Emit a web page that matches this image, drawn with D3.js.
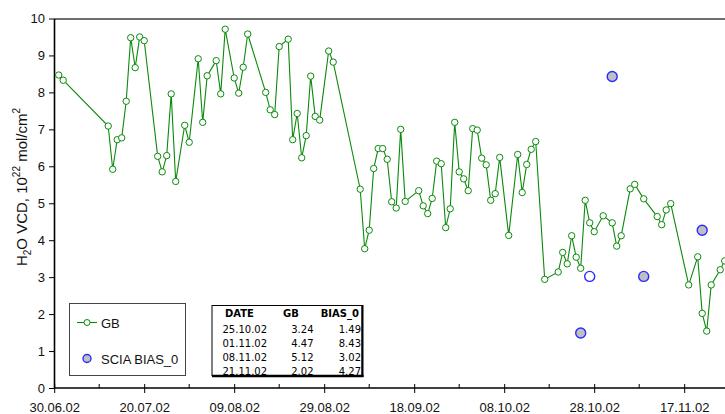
<!DOCTYPE html>
<html>
<head>
<meta charset="utf-8">
<script src="https://cdn.jsdelivr.net/npm/d3@7/dist/d3.min.js"></script>
<style>
  body { margin: 0; background: #fff; }
  svg { display: block; font-family: "Liberation Sans", Arial, sans-serif; }
</style>
</head>
<body>
<svg id="chart" width="725" height="414"></svg>
<script>
// Ground-based H2O vertical column densities (10^22 mol/cm^2)
const gbDates = [
  "01.07.02","02.07.02","12.07.02","13.07.02","14.07.02","15.07.02","16.07.02","17.07.02","18.07.02","19.07.02",
  "20.07.02","23.07.02","24.07.02","25.07.02","26.07.02","27.07.02","29.07.02","30.07.02","01.08.02","02.08.02",
  "03.08.02","05.08.02","06.08.02","07.08.02","09.08.02","10.08.02","11.08.02","12.08.02","16.08.02","17.08.02",
  "18.08.02","19.08.02","21.08.02","22.08.02","23.08.02","24.08.02","25.08.02","26.08.02","27.08.02","28.08.02",
  "30.08.02","31.08.02","06.09.02","07.09.02","08.09.02","09.09.02","10.09.02","11.09.02","12.09.02","13.09.02",
  "14.09.02","15.09.02","16.09.02","19.09.02","20.09.02","21.09.02","22.09.02","23.09.02","24.09.02","25.09.02",
  "26.09.02","27.09.02","28.09.02","29.09.02","30.09.02","01.10.02","02.10.02","03.10.02","04.10.02","05.10.02",
  "06.10.02","07.10.02","09.10.02","11.10.02","12.10.02","13.10.02","14.10.02","15.10.02","17.10.02","20.10.02",
  "21.10.02","22.10.02","23.10.02","24.10.02","25.10.02","26.10.02","27.10.02","28.10.02","30.10.02","01.11.02",
  "02.11.02","03.11.02","05.11.02","06.11.02","08.11.02","11.11.02","12.11.02","13.11.02","14.11.02","18.11.02",
  "20.11.02","21.11.02","22.11.02","23.11.02","25.11.02","26.11.02"
];
const gbValues = [
  8.47, 8.33, 7.09, 5.92, 6.72, 6.77, 7.76, 9.48, 8.67, 9.50,
  9.40, 6.27, 5.85, 6.29, 7.96, 5.59, 7.11, 6.65, 8.91, 7.19,
  8.45, 8.86, 7.96, 9.71, 8.39, 7.98, 8.68, 9.58, 8.00, 7.53,
  7.40, 9.24, 9.44, 6.72, 7.43, 6.23, 6.83, 8.44, 7.35, 7.25,
  9.12, 8.82, 5.38, 3.77, 4.27, 5.94, 6.48, 6.48, 6.19, 5.04,
  4.87, 7.00, 5.05, 5.34, 4.93, 4.72, 5.13, 6.14, 6.07, 4.34,
  4.85, 7.19, 5.85, 5.66, 5.34, 7.02, 6.98, 6.22, 6.04, 5.08,
  5.26, 6.24, 4.13, 6.32, 5.29, 6.05, 6.46, 6.67, 2.94, 3.14,
  3.67, 3.36, 4.12, 3.54, 3.24, 5.08, 4.47, 4.23, 4.66, 4.47,
  3.84, 4.12, 5.39, 5.51, 5.12, 4.64, 4.42, 4.82, 4.99, 2.79,
  3.55, 2.02, 1.54, 2.79, 3.20, 3.44
];

// SCIAMACHY columns (BIAS_0)
const sciaDates = ["25.10.02", "01.11.02", "08.11.02", "21.11.02"];
const sciaValues = [1.49, 8.43, 3.02, 4.27];
const sciaOpenDates = ["27.10.02"];
const sciaOpenValues = [3.02];

const xTickLabels = ["30.06.02","20.07.02","09.08.02","29.08.02","18.09.02","08.10.02","28.10.02","17.11.02"];
const yTickValues = [0, 1, 2, 3, 4, 5, 6, 7, 8, 9, 10];
const tableHeaders = ["DATE", "GB", "BIAS_0"];

const parse = d3.utcParse("%d.%m.%y");
const svg = d3.select("#chart");

const x = d3.scaleUtc()
  .domain([parse("30.06.02"), parse("30.11.02")])
  .range([54.2, 54.2 + 153 * 4.5]);
const y = d3.scaleLinear().domain([0, 10]).range([388, 18.5]);

const green = "#0a8a0a";

// frame: top border
svg.append("line")
  .attr("x1", 54).attr("x2", 725).attr("y1", 19).attr("y2", 19)
  .attr("stroke", "#6e6e6e").attr("stroke-width", 2);

// y axis
const yAxis = svg.append("g")
  .attr("transform", "translate(54,0)")
  .call(d3.axisLeft(y).tickValues(yTickValues).tickSize(5).tickSizeOuter(0).tickPadding(4));
yAxis.select(".domain").attr("stroke", "#000").attr("stroke-width", 1.6);
yAxis.selectAll(".tick line").attr("stroke", "#000");
yAxis.selectAll(".tick text").attr("font-size", 13).attr("fill", "#111")
  .attr("font-family", "Liberation Sans, Arial, sans-serif");

// x axis: major ticks every 20 days, minor ticks between
const majorDates = xTickLabels.map(parse);
const minorDates = majorDates.map(d => d3.utcDay.offset(d, 10));
const xAxis = svg.append("g")
  .attr("transform", "translate(0,388)")
  .call(d3.axisBottom(x).tickValues(majorDates).tickFormat(d3.utcFormat("%d.%m.%y"))
    .tickSize(5).tickSizeOuter(0).tickPadding(10));
xAxis.select(".domain").attr("stroke", "#000").attr("stroke-width", 1.6)
  .attr("d", "M54,0H725");
xAxis.selectAll(".tick line").attr("stroke", "#000").attr("y1", -4);
xAxis.selectAll(".tick text").attr("font-size", 13).attr("fill", "#111")
  .attr("font-family", "Liberation Sans, Arial, sans-serif");
svg.append("g").selectAll("line").data(minorDates).join("line")
  .attr("x1", d => x(d)).attr("x2", d => x(d))
  .attr("y1", 384).attr("y2", 388)
  .attr("stroke", "#000");

// y axis title
const title = svg.append("text")
  .attr("transform", "translate(27,187) rotate(-90)")
  .attr("text-anchor", "middle")
  .attr("font-size", 15).attr("fill", "#111");
title.append("tspan").text("H");
title.append("tspan").attr("font-size", 10).attr("dy", 4).text("2");
title.append("tspan").attr("dy", -4).text("O VCD, 10");
title.append("tspan").attr("font-size", 10).attr("dy", -7).text("22");
title.append("tspan").attr("dy", 7).text(" mol/cm");
title.append("tspan").attr("font-size", 10).attr("dy", -7).text("2");

// GB series
const gb = gbDates.map((d, i) => ({ date: parse(d), value: gbValues[i] }));
const plot = svg.append("g");
plot.append("path")
  .datum(gb)
  .attr("fill", "none")
  .attr("stroke", green)
  .attr("stroke-width", 1.1)
  .attr("d", d3.line().x(d => x(d.date)).y(d => y(d.value)));
plot.selectAll("circle.gb").data(gb).join("circle")
  .attr("class", "gb")
  .attr("cx", d => x(d.date)).attr("cy", d => y(d.value))
  .attr("r", 3.2)
  .attr("fill", "#fff").attr("stroke", green).attr("stroke-width", 1);

// SCIA points
const scia = sciaDates.map((d, i) => ({ date: parse(d), value: sciaValues[i] }));
plot.selectAll("circle.scia").data(scia).join("circle")
  .attr("class", "scia")
  .attr("cx", d => x(d.date)).attr("cy", d => y(d.value))
  .attr("r", 5)
  .attr("fill", "#c0c0c4").attr("stroke", "#2a2aff").attr("stroke-width", 1.4);
const sciaOpen = sciaOpenDates.map((d, i) => ({ date: parse(d), value: sciaOpenValues[i] }));
plot.selectAll("circle.sciaopen").data(sciaOpen).join("circle")
  .attr("class", "sciaopen")
  .attr("cx", d => x(d.date)).attr("cy", d => y(d.value))
  .attr("r", 5)
  .attr("fill", "#fff").attr("stroke", "#2a2aff").attr("stroke-width", 1.4);

// legend
const legend = svg.append("g");
legend.append("rect")
  .attr("x", 69.5).attr("y", 303.5).attr("width", 116).attr("height", 72)
  .attr("fill", "#fff").attr("stroke", "#444").attr("stroke-width", 1);
legend.append("line")
  .attr("x1", 77).attr("x2", 97).attr("y1", 322.5).attr("y2", 322.5)
  .attr("stroke", green).attr("stroke-width", 1.1);
legend.append("circle")
  .attr("cx", 87).attr("cy", 322.5).attr("r", 3)
  .attr("fill", "#fff").attr("stroke", green);
legend.append("text").attr("x", 101).attr("y", 327.5)
  .attr("font-size", 13).attr("fill", "#111").text("GB");
legend.append("circle")
  .attr("cx", 87).attr("cy", 358.5).attr("r", 4)
  .attr("fill", "#c0c0c4").attr("stroke", "#2a2aff").attr("stroke-width", 1.4);
legend.append("text").attr("x", 101).attr("y", 363.5)
  .attr("font-size", 13).attr("fill", "#111").text("SCIA BIAS_0");

// comparison table: GB values taken from the series on the SCIA dates
const gbLookup = new Map(gbDates.map((d, i) => [d, gbValues[i]]));
const tableRows = sciaDates.map((d, i) => [d, gbLookup.get(d).toFixed(2), sciaValues[i].toFixed(2)]);
const table = svg.append("g").attr("font-family", "DejaVu Sans, Verdana, sans-serif");
table.append("rect")
  .attr("x", 212).attr("y", 305.5).attr("width", 150).attr("height", 70)
  .attr("fill", "#fff").attr("stroke", "#000").attr("stroke-width", 1);
table.append("line").attr("x1", 212).attr("x2", 363.5).attr("y1", 376).attr("y2", 376)
  .attr("stroke", "#000").attr("stroke-width", 2.5);
table.append("line").attr("x1", 362.5).attr("x2", 362.5).attr("y1", 305).attr("y2", 377)
  .attr("stroke", "#000").attr("stroke-width", 2);
const colX = [225, 298, 359];
const colAnchor = ["start", "end", "end"];
table.selectAll("text.head").data(tableHeaders).join("text")
  .attr("class", "head")
  .attr("x", (d, i) => i === 1 ? 283 : colX[i])
  .attr("y", 316.5)
  .attr("text-anchor", (d, i) => i === 1 ? "start" : colAnchor[i])
  .attr("font-size", 10).attr("font-weight", "bold").attr("fill", "#000")
  .text(d => d);
const colXBody = [222.5, 313.5, 361];
const colAnchorBody = ["start", "end", "end"];
tableRows.forEach((row, r) => {
  table.selectAll(null).data(row).join("text")
    .attr("x", (d, i) => colXBody[i])
    .attr("y", 332.5 + r * 14)
    .attr("text-anchor", (d, i) => colAnchorBody[i])
    .attr("font-size", 10).attr("fill", "#000")
    .text(d => d);
});
</script>
</body>
</html>
